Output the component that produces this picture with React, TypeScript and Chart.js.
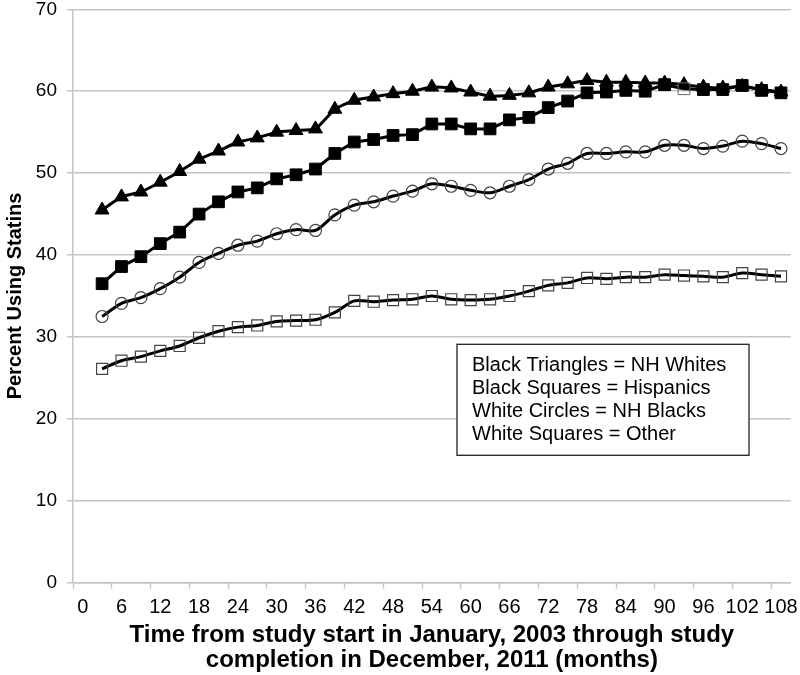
import React, { useEffect, useRef } from "react";
import { Chart, registerables } from "chart.js";

Chart.register(...registerables);

const months = [3, 6, 9, 12, 15, 18, 21, 24, 27, 30, 33, 36, 39, 42, 45, 48, 51, 54, 57, 60, 63, 66, 69, 72, 75, 78, 81, 84, 87, 90, 93, 96, 99, 102, 105, 108];

const nhWhites = [45.5, 47.1, 47.7, 48.9, 50.2, 51.7, 52.7, 53.8, 54.3, 55.0, 55.2, 55.4, 57.8, 58.9, 59.3, 59.7, 60.0, 60.5, 60.4, 59.9, 59.4, 59.5, 59.8, 60.5, 60.9, 61.3, 61.1, 61.1, 61.0, 61.0, 60.8, 60.5, 60.4, 60.6, 60.2, 59.9];
const hispanics = [36.5, 38.6, 39.8, 41.4, 42.8, 45.0, 46.5, 47.7, 48.2, 49.3, 49.8, 50.5, 52.4, 53.8, 54.1, 54.6, 54.7, 56.0, 56.0, 55.4, 55.4, 56.5, 56.8, 58.0, 58.8, 59.8, 59.9, 60.1, 60.0, 60.8, 60.3, 60.2, 60.2, 60.7, 60.1, 59.8];
const nhBlacks = [32.5, 34.1, 34.8, 35.9, 37.3, 39.1, 40.2, 41.2, 41.7, 42.6, 43.1, 43.0, 44.9, 46.1, 46.5, 47.2, 47.8, 48.7, 48.4, 47.9, 47.6, 48.4, 49.2, 50.5, 51.2, 52.4, 52.4, 52.6, 52.6, 53.4, 53.4, 53.0, 53.3, 53.9, 53.6, 53.0];
const other = [26.1, 27.1, 27.6, 28.3, 28.9, 29.9, 30.7, 31.2, 31.4, 31.9, 32.0, 32.1, 33.0, 34.4, 34.3, 34.5, 34.6, 35.0, 34.6, 34.5, 34.6, 35.0, 35.6, 36.3, 36.6, 37.2, 37.1, 37.3, 37.3, 37.6, 37.5, 37.4, 37.3, 37.8, 37.6, 37.4];

const xTickLabels = [0, 6, 12, 18, 24, 30, 36, 42, 48, 54, 60, 66, 72, 78, 84, 90, 96, 102, 108];
const xTickMarks = [-1.5, 4.5, 10.5, 16.5, 22.5, 28.5, 34.5, 40.5, 46.5, 52.5, 58.5, 64.5, 70.5, 76.5, 82.5, 88.5, 94.5, 100.5, 106.5];
const yTicks = [0, 10, 20, 30, 40, 50, 60, 70];

const legendLines = [
  "Black Triangles = NH Whites",
  "Black Squares = Hispanics",
  "White Circles = NH Blacks",
  "White Squares = Other",
];

const xTitle = [
  "Time from study start in January, 2003 through study",
  "completion in December, 2011 (months)",
];
const yTitle = "Percent Using Statins";

const FONT = "'Liberation Sans', Arial, sans-serif";
const GRID = "#c4c4c4";

const toPoints = (vals: number[]) => vals.map((v, i) => ({ x: months[i], y: v }));

const legendBoxPlugin = {
  id: "legendBox",
  afterDraw(chart: any) {
    const { ctx, chartArea } = chart;
    const left = chartArea.left + 384;
    const top = chartArea.top + 335;
    const w = 292;
    const h = 111;
    ctx.save();
    ctx.fillStyle = "#ffffff";
    ctx.fillRect(left, top, w, h);
    ctx.strokeStyle = "#222";
    ctx.lineWidth = 1.3;
    ctx.strokeRect(left, top, w, h);
    ctx.fillStyle = "#000";
    ctx.font = `20px ${FONT}`;
    ctx.textBaseline = "alphabetic";
    ctx.textAlign = "left";
    legendLines.forEach((t, i) => {
      ctx.fillText(t, left + 15, top + 27 + i * 23);
    });
    ctx.restore();
  },
};

export default function App() {
  const ref = useRef<HTMLCanvasElement | null>(null);

  useEffect(() => {
    document.body.style.margin = "0";
    const canvas = ref.current;
    if (!canvas) return;
    const hollowIdx = months.indexOf(93);
    const chart = new Chart(canvas, {
      type: "line",
      data: {
        datasets: [
          {
            label: "Hispanics",
            data: toPoints(hispanics),
            borderColor: "#000",
            borderWidth: 3,
            tension: 0,
            pointStyle: "rect",
            pointRadius: 8.3,
            pointBackgroundColor: hispanics.map((_, i) => (i === hollowIdx ? "rgba(255,255,255,0)" : "#000")),
            pointBorderColor: hispanics.map((_, i) => (i === hollowIdx ? "#666" : "#000")),
            pointBorderWidth: 1,
            order: 0,
          },
          {
            label: "NH Whites",
            data: toPoints(nhWhites),
            borderColor: "#000",
            borderWidth: 3,
            tension: 0.15,
            pointStyle: "triangle",
            pointRadius: 8,
            pointBackgroundColor: "#000",
            pointBorderColor: "#000",
            pointBorderWidth: 1,
            order: 1,
          },
          {
            label: "NH Blacks",
            data: toPoints(nhBlacks),
            borderColor: "#000",
            borderWidth: 3,
            tension: 0.3,
            pointStyle: "circle",
            pointRadius: 6,
            pointBackgroundColor: "rgba(255,255,255,0)",
            pointBorderColor: "#444",
            pointBorderWidth: 1.2,
            order: 2,
          },
          {
            label: "Other",
            data: toPoints(other),
            borderColor: "#000",
            borderWidth: 3,
            tension: 0.3,
            pointStyle: "rect",
            pointRadius: 7.8,
            pointBackgroundColor: "rgba(255,255,255,0)",
            pointBorderColor: "#444",
            pointBorderWidth: 1.2,
            order: 3,
          },
        ],
      },
      options: {
        animation: false,
        responsive: false,
        maintainAspectRatio: false,
        layout: { padding: { top: 9, right: 8, left: 0, bottom: 0 } },
        plugins: {
          legend: { display: false },
          tooltip: { enabled: false },
        },
        scales: {
          x: {
            type: "linear",
            min: -1.5,
            max: 109.5,
            afterBuildTicks: (scale: any) => {
              const all = [...xTickLabels, ...xTickMarks].sort((a, b) => a - b);
              scale.ticks = all.map((v) => ({ value: v }));
            },
            afterFit: (scale: any) => {
              scale.height = 92.3;
              scale.paddingLeft = 0;
              scale.paddingRight = 0;
            },
            grid: {
              drawOnChartArea: false,
              drawTicks: true,
              tickLength: 6,
              tickColor: (ctx: any) => (ctx.tick && xTickLabels.includes(ctx.tick.value) ? "rgba(0,0,0,0)" : GRID),
              tickWidth: 1.3,
            },
            border: { display: true, color: GRID, width: 1.5 },
            ticks: {
              autoSkip: false,
              maxRotation: 0,
              minRotation: 0,
              padding: 7,
              color: "#000",
              font: { family: FONT, size: 20 },
              callback: (v: any) => (xTickLabels.includes(Number(v)) ? String(v) : ""),
            },
            title: {
              display: true,
              text: xTitle,
              color: "#000",
              font: { family: FONT, size: 24, weight: "bold", lineHeight: 1.05 },
              padding: { top: 0, bottom: 2 },
            },
          },
          y: {
            type: "linear",
            min: 0,
            max: 70,
            afterBuildTicks: (scale: any) => {
              scale.ticks = yTicks.map((v) => ({ value: v }));
            },
            afterFit: (scale: any) => {
              scale.width = 73;
              scale.paddingTop = 0;
              scale.paddingBottom = 0;
            },
            grid: {
              color: GRID,
              lineWidth: 1.5,
              drawTicks: true,
              tickLength: 6,
            },
            border: { display: true, color: GRID, width: 1.5 },
            ticks: {
              padding: 10,
              color: "#000",
              font: { family: FONT, size: 19 },
            },
            title: {
              display: true,
              text: yTitle,
              color: "#000",
              font: { family: FONT, size: 20, weight: "bold" },
              padding: { top: 3, bottom: 0 },
            },
          },
        },
      },
      plugins: [legendBoxPlugin],
    } as any);
    return () => chart.destroy();
  }, []);

  return (
    <div style={{ width: 800, height: 675, position: "relative", background: "#fff" }}>
      <canvas ref={ref} width={800} height={675} style={{ display: "block" }} />
    </div>
  );
}
